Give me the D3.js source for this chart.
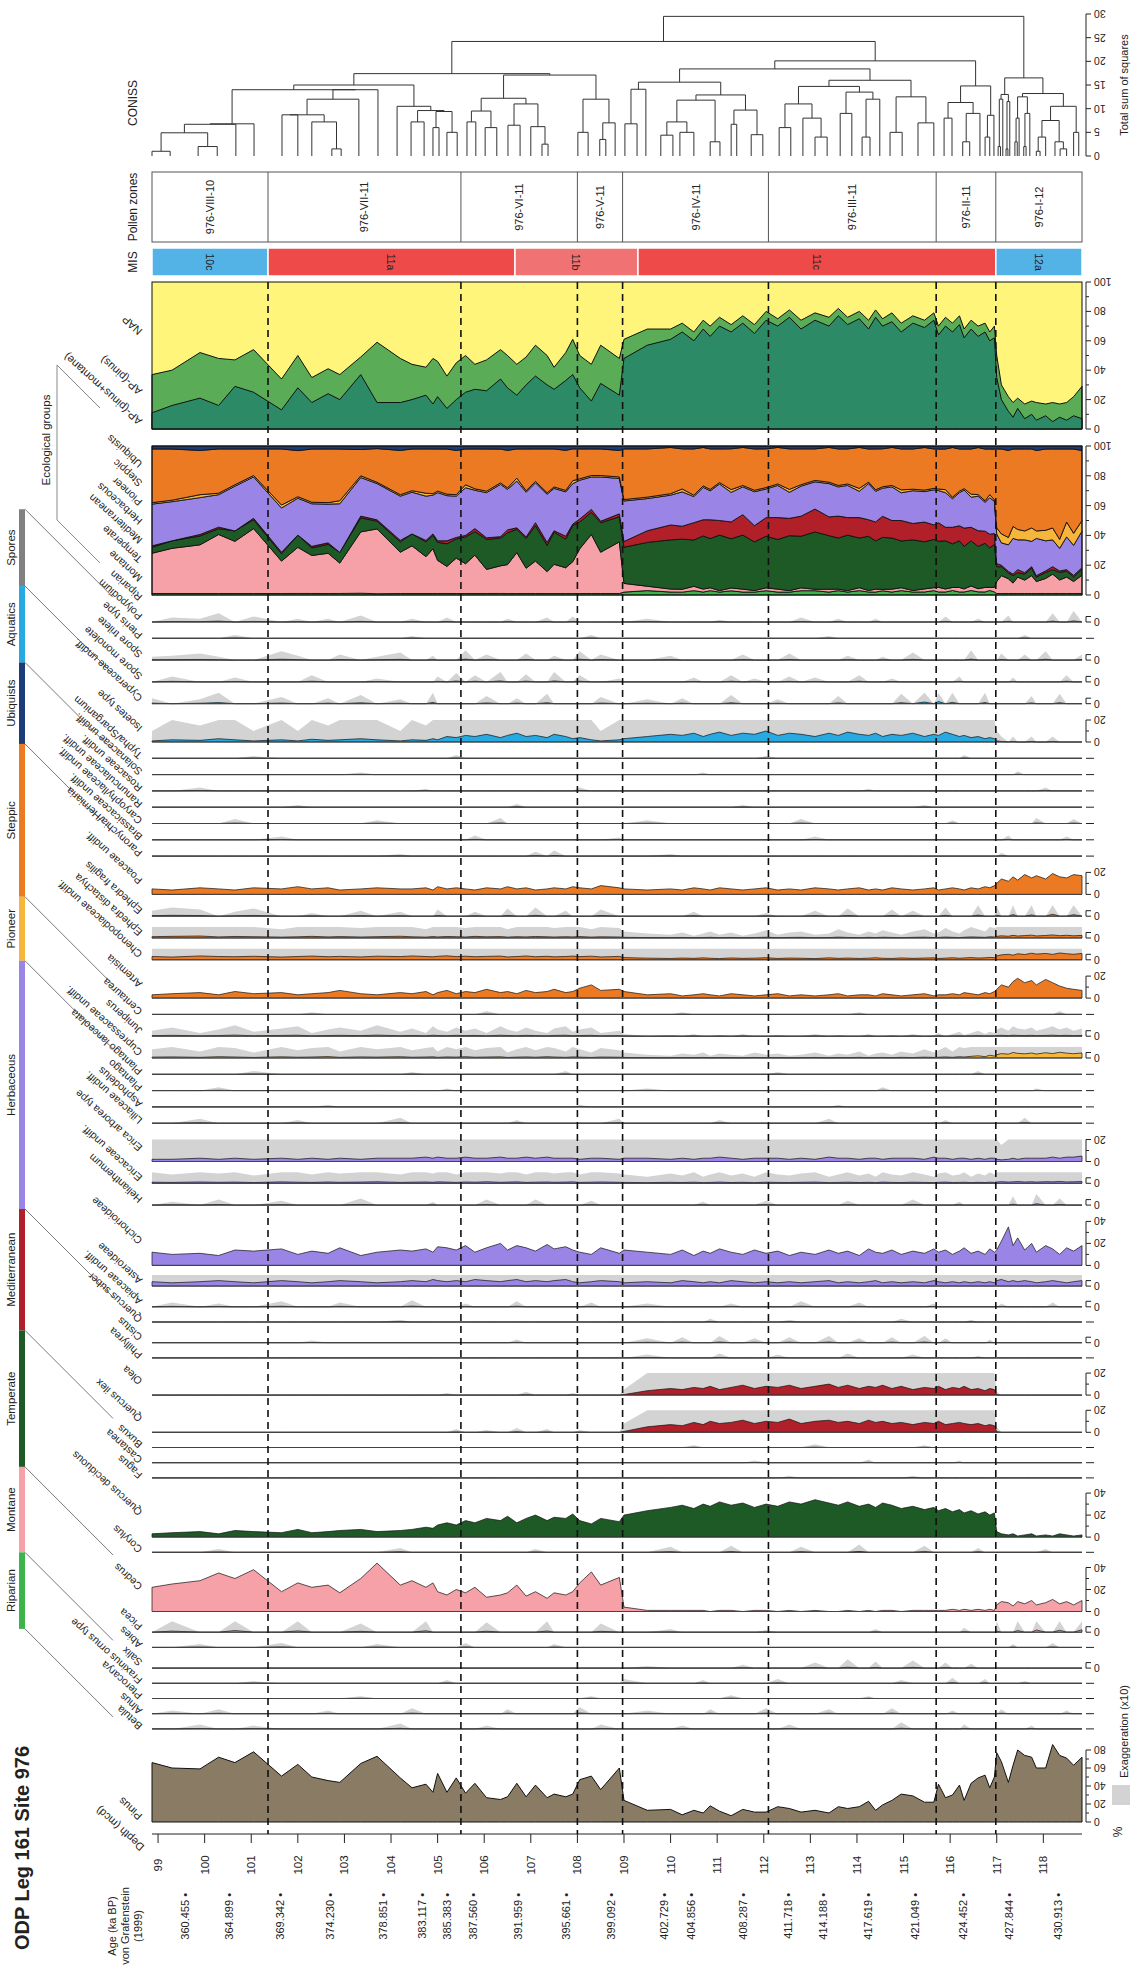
<!DOCTYPE html>
<html lang="en">
<head>
<meta charset="UTF-8">
<title>ODP Leg 161 Site 976 pollen diagram</title>
<script src="https://d3js.org/d3.v7.min.js"></script>
<style>
  body { margin: 0; background: #fff; }
  svg { display: block; font-family: "Liberation Sans", Arial, sans-serif; }
</style>
</head>
<body>
<svg id="chart" width="1136" height="1968"></svg>
<script>
// ---- sample depths (mcd) ----
const depths = [98.87, 99.3, 99.9, 100.3, 100.65, 101.05, 101.65, 102.0, 102.3, 102.65,
  102.9, 103.35, 103.7, 104.2, 104.45, 104.75, 104.9, 105.0, 105.2, 105.4,
  105.6, 105.8, 106.05, 106.35, 106.5, 106.7, 106.9, 107.1, 107.35, 107.5,
  107.75, 107.9, 108.05, 108.3, 108.5, 108.9, 109.0, 109.5, 110.0, 110.25,
  110.5, 110.7, 110.85, 111.05, 111.3, 111.55, 111.8, 112.05, 112.3, 112.55,
  112.8, 113.1, 113.4, 113.6, 113.8, 114.05, 114.25, 114.4, 114.55, 114.75,
  114.95, 115.2, 115.45, 115.65, 115.75, 115.9, 116.05, 116.2, 116.3, 116.45,
  116.6, 116.75, 116.85, 116.95, 117.0, 117.1, 117.25, 117.35, 117.45, 117.6,
  117.75, 117.85, 118.05, 118.2, 118.35, 118.5, 118.65, 118.83];

const pinus = [66,60,59,72,66,78,51,64,50,46, 44,65,73,49,38,42,33,54,33,49,
  32,43,27,25,28,43,28,41,27,31, 28,31,47,51,36,60,24,13,14,8,
  13,10,18,12,7,14,11,11,17,15, 11,13,10,17,15,17,23,13,19,24,
  31,29,22,22,42,27,30,41,24,43, 49,52,38,50,77,67,44,63,80,74,
  72,60,60,86,74,71,63,72];

// NAP panel (cumulative %)
const apPinusMontane = [11,16,21,16,29,25,13,28,18,24, 20,37,18,18,20,23,17,22,14,20,
  25,27,26,34,28,23,30,36,30,27, 33,37,28,19,31,23,48,57,61,66,
  60,68,63,70,66,72,65,74,70,76, 68,74,70,77,71,75,68,76,70,73,
  66,72,69,74,64,70,66,71,62,68, 63,66,60,62,35,20,12,8,14,7,
  10,6,9,5,8,6,9,7];
const apPinus = [37,40,52,48,47,54,34,50,35,41, 37,49,59,48,44,42,48,46,36,45,
  50,44,47,54,50,44,49,57,50,42, 52,61,50,44,57,48,61,68,68,72,
  66,74,70,76,71,77,71,80,75,81, 74,79,76,82,76,80,74,81,75,79,
  72,77,74,79,70,76,72,77,68,74, 70,72,66,70,50,30,22,18,21,17,
  19,18,17,18,17,18,22,29];

// ecological groups (%)
const ecoKeys = ["Riparian","Montane","Temperate","Mediterranean","Herbaceous","Pioneer","Steppic","Ubiquists"];
const riparian = [1,1,1,1,1,1,1,1,1,1, 1,1,1,1,1,1,1,1,1,1, 1,1,1,1,1,1,1,1,1,1,
  1,1,1,1,1,1,2,3,2,2, 3,2,3,2,3,2,2,3,2,2, 3,3,2,3,2,3,2,2,3,2,
  3,2,2,3,2,2,3,2,2,3, 2,2,3,2,1,1,1,1,1,1, 1,1,1,1,1,1,1,1];
const montane = [27,30,33,40,35,44,22,30,25,27, 20,35,50,28,32,25,30,22,18,24,
  20,26,16,18,20,28,17,22,15,20, 18,22,30,40,28,35,6,3,2,2,
  3,2,2,1,2,2,1,2,2,1, 2,1,2,1,1,2,1,2,1,2,
  2,1,2,2,3,2,2,3,2,3, 2,3,2,3,8,12,10,7,11,9, 12,8,10,13,9,11,8,12];
const temperate = [4,5,6,4,7,6,5,8,5,6, 7,8,6,7,8,10,9,12,15,13,
  18,16,20,18,22,16,20,24,18,22, 20,25,18,15,20,17,25,30,33,35,
  32,36,34,38,35,37,33,36,34,38, 36,40,37,35,38,34,36,33,37,35,
  32,34,31,33,30,32,29,31,28,30, 27,29,26,28,10,6,4,5,3,4, 5,3,4,3,5,4,3,4];
const mediterranean = [1,0,1,1,0,1,1,0,1,1, 0,1,1,1,0,1,1,1,2,1, 1,2,1,1,2,1,1,2,2,1,
  2,1,2,2,1,2,4,8,10,9, 12,11,13,10,12,14,11,13,15,12, 14,16,13,15,12,14,11,13,15,12,
  14,11,13,10,12,9,11,10,12,9, 10,8,9,7,2,1,1,1,2,1, 1,1,1,2,1,1,1,1];
const herbaceous = [28,26,25,22,30,28,30,24,28,26, 32,22,28,30,28,30,26,32,30,28,
  32,26,30,34,28,32,30,27,33,29, 31,28,26,22,30,24,28,22,20,24,
  18,22,20,25,21,19,23,20,22,18, 21,19,23,20,22,18,24,21,20,23,
  19,22,20,24,21,23,19,22,25,20, 22,19,24,21,20,15,18,24,20,22, 17,25,20,18,15,22,20,24];
const pioneer = [1,1,2,1,1,1,2,1,1,1, 2,1,1,1,1,2,1,1,1,1, 2,1,1,1,1,2,1,1,1,1,
  1,2,1,1,1,1,1,1,1,2, 1,1,1,1,2,1,1,1,1,2, 1,1,1,1,1,2,1,1,1,1,
  2,1,1,1,1,2,1,1,1,2, 1,1,2,1,4,6,5,8,7,6, 9,5,7,8,6,10,8,7];
const steppic = [36,34,30,30,24,18,38,30,35,36, 34,15,26,30,28,30,30,28,30,30,
  24,27,28,22,26,20,28,22,30,26, 28,22,20,18,18,18,35,33,31,28,
  32,26,28,23,29,26,28,27,25,28, 25,22,24,25,24,28,22,28,27,26,
  28,27,28,27,26,27,33,28,26,30, 30,34,30,33,53,57,59,52,54,55, 53,54,54,53,60,49,56,46];
const ubiquists = [2,2,3,2,2,2,2,3,2,2, 2,2,2,3,2,2,2,2,2,3, 2,2,2,2,3,2,2,2,2,2,
  3,2,2,2,2,3,2,2,1,2, 2,1,2,2,2,1,2,2,1,2, 2,2,1,2,2,1,2,2,2,1,
  2,2,1,2,2,2,1,2,2,2, 1,2,2,2,2,2,3,2,2,2, 2,3,2,2,2,2,2,3];

// ---- taxa: full series on the depth grid ----
const cedrus = [22,25,28,35,30,38,18,26,22,24, 17,30,44,24,28,22,26,18,15,20,
  17,22,13,15,17,24,14,18,12,17, 15,18,26,36,24,31,4,1,1,1,
  1,1,0,1,1,0,1,1,0,1, 0,1,0,0,1,0,1,0,1,1,
  0,1,1,1,1,1,2,1,2,1, 2,1,2,1,6,9,8,5,9,7, 10,6,8,11,7,9,6,10];
const quercusDeciduous = [3,4,5,3,6,5,4,7,4,5, 6,7,5,6,7,9,8,11,13,11,
  15,13,17,15,19,13,17,20,15,18, 17,21,15,12,17,14,20,24,27,29,
  26,30,28,32,29,31,27,30,28,32, 30,34,31,29,32,28,30,27,31,29,
  26,28,25,27,24,26,23,25,22,24, 21,23,20,22,5,3,2,3,1,2, 3,1,2,1,3,2,1,2];
const cichorioideae = [12,10,11,9,14,13,15,10,13,11, 16,9,12,14,13,15,12,17,16,14,
  18,12,16,20,14,18,16,13,19,15, 17,14,12,10,16,11,14,12,10,14,
  9,13,11,15,12,10,14,11,13,9, 12,10,14,11,13,9,15,12,11,14,
  10,13,11,15,12,14,10,13,16,11, 13,10,15,12,14,22,35,18,25,14, 20,12,18,15,10,16,13,18];
const ericaArborea = [2,2,3,2,3,2,3,2,3,2, 3,2,3,3,3,4,3,4,3,3, 4,3,3,4,3,3,4,3,4,3,
  3,3,2,3,3,2,3,3,2,3, 2,3,3,4,3,2,3,3,3,2, 3,2,4,3,3,2,3,3,2,3,
  3,3,2,4,3,3,2,3,3,2, 3,2,3,3,2,1.5,2,3,2,3, 3,3,3,4,3,4,4,5];
const asteroideae = [4,3,4,5,4,3,5,4,3,4, 5,4,3,4,5,4,6,5,4,5, 4,6,5,4,5,6,4,5,4,5,
  6,4,3,4,5,4,3,4,3,5, 4,3,4,3,5,4,3,4,3,4, 3,4,5,3,4,3,4,5,3,4,
  3,4,3,5,4,3,4,3,4,3, 4,3,4,3,5,6,4,5,4,5, 4,3,4,5,4,3,4,5];
const olea = [0,0,0,0,0,0,0,0,0,0, 0,0,0,0,0,0,0,0,0.2,0, 0,0,0,0,0,0,0.3,0,0,0,
  0,0.2,0,0,0,0,0.5,4,6,5, 7,6,8,5,7,9,6,8,7,9, 6,8,10,7,9,6,8,7,9,6,
  8,5,7,6,8,5,7,6,8,5, 6,4,6,5,0.3,0,0,0,0,0, 0,0,0,0,0,0,0,0];
const quercusIlex = [0,0,0,0,0,0,0,0,0,0, 0,0,0,0,0,0,0,0,0,0.3, 0,0,0.2,0,0,0.4,0,0,0.3,0,
  0,0,0.2,0,0,0,0.8,5,7,6, 9,7,10,8,9,11,8,10,9,12, 8,10,11,9,10,8,11,9,10,8,
  9,7,9,8,10,7,8,9,8,7, 8,6,7,6,0.5,0,0,0,0,0, 0,0,0,0,0,0,0,0];
const poaceae = [5,4,6,5,4,6,5,7,5,6, 4,5,6,5,5,6,4,7,5,6, 5,4,6,5,7,5,6,4,5,6,
  5,7,6,5,8,6,5,4,5,4, 6,5,4,6,5,4,5,6,4,5, 4,6,5,4,5,6,4,5,4,6,
  5,4,5,6,4,5,6,5,4,6, 5,7,6,8,10,14,12,16,13,18, 15,17,14,19,16,15,18,17];
const artemisia = [3,4,5,3,6,4,5,3,4,5, 7,4,3,5,4,6,3,5,7,4, 6,5,8,5,6,4,7,5,6,8,
  5,6,9,12,7,8,6,3,4,2, 3,4,3,2,4,3,2,3,4,2, 3,2,3,4,2,3,3,2,4,3,
  2,3,4,2,3,3,4,3,5,4, 3,5,4,6,8,12,10,15,18,14, 16,12,17,14,11,9,8,7];
const isoetes = [1,2,1.5,3,2,1,2,1,2.5,1.5, 2,3,2,1,2,1.5,3,2,5,4, 6,5,7,4,6,8,5,6,4,7,
  5,3,4,2,1,2,3,5,7,6, 8,5,7,9,6,8,7,10,6,8, 7,5,8,6,9,7,6,8,5,7,
  6,8,5,7,6,9,7,5,6,4, 5,3,4,3,1,0.5,0,0.5,0,0, 0.5,0,0,0.5,0,0,0,0];
const ephedraDistachya = [1.2,1.5,1.8,1.0,1.4,1.2,0.8,1.1,1.5,1.0, 1.3,0.9,1.2,1.6,1.1,0.8,1.3,1.0,1.4,1.2,
  0.9,1.5,1.1,1.3,0.8,1.2,1.0,1.4,1.1,0.9, 1.2,1.0,1.3,0.8,1.1,0.9,0.6,0.4,0.3,0.5,
  0.2,0.4,0.6,0.3,0.5,0.2,0.4,0.7,0.3,0.5, 0.6,0.3,0.4,0.8,0.5,0.3,0.6,0.4,0.7,0.5,
  0.3,0.6,0.8,0.4,0.5,0.9,0.6,0.4,0.7,1.0, 0.8,0.6,1.1,0.9,1.5,2.0,1.6,2.4,1.8,2.2,
  2.6,1.9,2.3,2.8,2.1,2.5,2.0,2.4];
const chenopodiaceae = [3,2.5,3.5,3,2.8,3.2,2.5,3,3.4,2.8, 3.1,2.6,3.3,2.9,3.5,3.0,2.7,3.2,3.6,2.9,
  3.3,2.8,3.1,3.4,2.6,3.0,3.5,2.8,3.2,2.7, 3.0,3.4,2.9,3.3,2.6,3.1,2.0,1.5,1.2,1.6,
  1.3,1.8,1.4,1.1,1.7,1.3,1.5,1.9,1.2,1.6, 1.4,1.1,1.8,1.3,1.6,1.2,1.5,1.9,1.4,1.2,
  1.7,1.3,1.6,1.8,1.2,1.5,1.9,1.4,1.7,2.0, 1.6,1.8,2.2,1.9,3.5,4.5,5.0,4.2,5.5,4.8,
  6.0,5.2,5.8,4.9,6.2,5.5,5.0,5.8];
const juniperus = [0.5,0.8,0.3,0.6,1.0,0.4,0.7,0.9,0.3,0.6, 0.8,0.5,1.0,0.4,0.7,0.3,0.9,0.6,0.4,0.8,
  0.5,0.7,0.3,0.9,0.6,0.4,0.8,0.5,0.3,0.7, 0.9,0.4,0.6,0.8,0.3,0.5,0.2,0,0.1,0,
  0.2,0,0,0.1,0,0.2,0,0,0.1,0, 0,0.2,0,0.1,0,0,0.2,0,0,0.1,
  0,0.2,0,0.1,0.3,0,0.2,0.4,0.1,0.3, 0.5,0.2,0.4,0.3,0.6,0.8,0.5,0.9,0.7,0.6,
  0.8,0.5,0.7,0.9,0.6,0.8,0.5,0.7];
const cupressaceae = [0.8,1.0,0.6,1.2,0.9,0.5,1.1,0.7,0.9,1.3, 0.6,1.0,0.8,1.2,0.7,0.9,1.1,0.6,1.0,0.8,
  1.2,0.7,0.9,1.1,0.5,0.8,1.0,0.7,1.2,0.9, 0.6,1.0,0.8,0.5,0.9,0.7,0.5,0.3,0.2,0.4,
  0.3,0.5,0.2,0.4,0.3,0.2,0.5,0.3,0.4,0.2, 0.3,0.5,0.2,0.4,0.3,0.6,0.2,0.4,0.5,0.3,
  0.6,0.4,0.8,0.5,0.7,1.0,0.6,1.2,0.9,1.5, 2.0,1.2,2.5,1.8,3.0,4.0,3.5,5.0,4.2,3.8,
  4.5,3.6,4.8,4.0,5.2,4.4,3.9,4.6];
const ericaceae = [1.0,0.8,1.2,0.9,1.1,0.7,1.3,1.0,0.8,1.2, 0.9,1.1,1.4,0.8,1.0,1.2,0.9,1.3,1.1,0.8,
  1.2,1.0,1.4,0.9,1.1,1.3,0.8,1.0,1.2,0.9, 1.1,1.3,0.8,1.0,1.2,0.9,0.8,0.6,0.9,0.7,
  1.0,0.6,0.8,1.1,0.7,0.9,0.6,1.0,0.8,0.7, 0.9,1.1,0.6,0.8,1.0,0.7,0.9,0.6,1.1,0.8,
  0.7,1.0,0.8,0.6,0.9,1.1,0.7,0.8,1.0,0.6, 0.9,0.7,1.0,0.8,1.2,1.5,1.1,1.3,1.6,1.2,
  1.4,1.1,1.5,1.3,1.7,1.2,1.4,1.6];

// ---- taxa: sparse [depth, %] (zero elsewhere) ----
const polypodium = [[99.3,0.4],[99.9,0.3],[100.3,0.8],[101.05,0.5],[102.0,0.3],[102.65,0.3],[103.35,0.6],[104.45,0.3],[105.2,0.4],[106.5,0.3],[107.35,0.4],[107.9,0.5],[109.5,0.3],[111.05,0.2],[112.8,0.4],[113.6,0.3],[114.4,0.3],[115.9,0.5],[116.6,0.3],[117.25,0.6],[118.2,0.8],[118.65,1.0]];
const pteris = [[100.65,0.3],[104.45,0.2],[108.3,0.3],[113.4,0.2],[117.6,0.3]];
const sporeTrilete = [[98.87,0.3],[99.3,0.4],[99.9,0.6],[100.3,0.3],[101.65,0.8],[102.0,0.4],[102.9,0.5],[103.7,0.3],[104.2,0.7],[104.9,0.4],[105.6,0.9],[106.05,0.5],[106.9,0.6],[107.5,0.4],[108.05,0.8],[108.5,0.5],[110.0,0.4],[111.55,0.5],[112.55,0.6],[113.8,0.4],[114.55,0.3],[115.2,0.7],[116.45,0.9],[117.1,0.6],[117.6,0.5],[118.05,0.8],[118.83,0.5]];
const sporeMonolete = [[99.3,0.5],[100.65,0.4],[102.3,0.6],[103.7,0.3],[105.0,0.5],[105.4,0.8],[105.8,0.6],[106.35,0.9],[106.9,0.7],[107.5,0.9],[108.05,0.6],[108.9,0.3],[110.5,0.4],[111.3,0.6],[111.8,0.3],[112.55,0.5],[113.1,0.4],[114.05,0.6],[114.75,0.3],[116.2,0.5],[117.35,0.4],[118.5,0.6]];
const cyperaceae = [[98.87,0.5],[99.9,0.4],[100.3,1.0],[101.65,0.6],[102.65,0.5],[103.35,0.8],[104.2,0.4],[104.9,1.2],[106.05,0.7],[106.7,0.5],[107.35,0.9],[108.5,0.6],[109.5,0.4],[110.25,0.5],[111.3,0.8],[112.3,0.4],[113.6,0.7],[114.95,0.9],[115.45,1.5],[115.75,2.0],[116.05,1.2],[116.75,1.1],[117.75,0.7],[118.35,0.9]];
const typha = [[101.05,0.2],[105.4,0.3],[112.05,0.2],[116.3,0.3]];
const solanaceae = [[103.35,0.2],[110.7,0.2],[117.45,0.3]];
const rosaceae = [[99.9,0.3],[104.75,0.2],[108.05,0.3],[114.25,0.2],[118.05,0.3]];
const ranunculaceae = [[102.0,0.2],[106.7,0.3],[111.55,0.2],[115.45,0.2]];
const caryophyllaceae = [[100.65,0.4],[103.7,0.3],[106.35,0.5],[109.5,0.3],[112.8,0.4],[116.05,0.3],[117.85,0.5],[118.65,0.4]];
const brassicaceae = [[101.65,0.3],[105.8,0.4],[108.9,0.2],[113.1,0.3],[117.25,0.4],[118.5,0.3]];
const paronychia = [[104.2,0.2],[107.1,0.4],[107.5,0.5],[110.0,0.2],[117.1,0.3]];
const ephedraFragilis = [[98.87,0.5],[99.3,0.8],[99.9,0.6],[100.65,0.4],[101.05,0.7],[102.3,0.3],[103.35,0.5],[104.2,0.4],[105.0,0.6],[105.8,0.4],[106.5,0.7],[107.1,0.8],[107.75,0.5],[108.5,0.6],[110.5,0.4],[112.05,0.3],[113.1,0.5],[113.8,0.7],[114.75,0.6],[115.2,0.5],[115.9,0.8],[116.6,1.0],[117.0,0.9],[117.35,1.5],[117.75,1.2],[118.2,1.8],[118.65,1.4]];
const centaurea = [[102.3,0.2],[106.05,0.3],[110.25,0.2],[114.05,0.2],[118.35,0.3]];
const plantagoLanceolata = [[101.05,0.3],[104.45,0.2],[107.75,0.3],[112.3,0.2],[116.6,0.3]];
const plantago = [[100.3,0.3],[105.2,0.2],[109.5,0.2],[114.55,0.3],[117.85,0.2]];
const asphodelus = [[102.65,0.2],[108.05,0.2],[113.6,0.2]];
const liliaceae = [[99.9,0.4],[102.0,0.3],[104.2,0.5],[106.7,0.3],[108.9,0.4],[111.05,0.3],[113.4,0.4],[115.9,0.3],[117.6,0.5]];
const helianthemum = [[99.3,0.3],[100.3,0.5],[101.65,0.4],[103.35,0.6],[104.9,0.3],[106.05,0.5],[107.1,0.5],[108.3,0.4],[110.7,0.3],[112.05,0.4],[113.8,0.4],[115.2,0.5],[116.2,0.3],[117.35,0.8],[117.85,1.2],[118.35,0.6]];
const apiaceae = [[99.3,0.4],[100.3,0.3],[101.65,0.5],[102.9,0.4],[104.45,0.6],[105.6,0.3],[106.7,0.5],[108.3,0.4],[109.5,0.3],[111.3,0.3],[112.8,0.5],[114.05,0.4],[115.65,0.3],[117.1,0.3],[118.2,0.4]];
const quercusSuber = [[104.2,0.2],[110.85,0.3],[112.55,0.2],[114.95,0.3],[116.45,0.2]];
const cistus = [[102.3,0.2],[106.7,0.3],[109.5,0.4],[110.25,0.5],[111.05,0.6],[111.8,0.4],[112.55,0.5],[113.4,0.6],[114.05,0.4],[114.75,0.5],[115.45,0.6],[115.9,0.4],[116.85,0.3]];
const phillyrea = [[109.5,0.3],[111.05,0.4],[112.3,0.3],[113.8,0.4],[115.2,0.3],[116.6,0.2]];
const buxus = [[110.5,0.2],[113.1,0.3],[115.45,0.2]];
const castanea = [[111.8,0.2],[114.25,0.3],[116.2,0.2]];
const fagus = [[112.55,0.2],[115.2,0.2]];
const corylus = [[100.3,0.3],[104.2,0.4],[107.1,0.3],[110.0,0.5],[111.3,0.6],[112.8,0.5],[114.05,0.7],[115.45,0.6],[116.6,0.4],[118.05,0.3]];
const picea = [[99.3,1.0],[100.65,1.5],[102.0,1.2],[103.35,0.8],[104.75,1.3],[106.05,0.9],[107.35,1.1],[108.5,0.8],[110.0,0.3],[112.05,0.2],[114.4,0.3],[116.3,0.4],[117.0,1.0],[117.45,1.5],[117.85,2.0],[118.35,1.8],[118.83,2.2]];
const abies = [[99.9,0.3],[101.65,0.4],[103.7,0.3],[105.6,0.4],[107.5,0.3],[117.35,0.3],[118.2,0.4]];
const salix = [[109.5,0.2],[111.55,0.3],[113.1,0.5],[113.8,0.8],[114.4,0.6],[115.2,0.7],[115.9,0.5],[116.45,0.4]];
const fraxinusOrnus = [[101.05,0.2],[105.2,0.3],[109.0,0.4],[110.7,0.3],[112.3,0.4],[114.95,0.3],[116.05,0.5],[116.75,0.4],[117.6,0.2]];
const pterocarya = [[103.35,0.2],[108.3,0.2],[111.3,0.3],[114.25,0.2]];
const alnus = [[99.3,0.3],[100.3,0.4],[102.65,0.3],[104.45,0.5],[106.5,0.4],[108.05,0.6],[109.5,0.3],[110.85,0.4],[112.05,0.5],[113.4,0.4],[114.75,0.5],[116.05,0.3],[117.1,0.4],[118.5,0.3]];
const betula = [[99.9,0.4],[101.05,0.3],[104.2,0.5],[106.05,0.3],[108.5,0.4],[110.25,0.3],[112.55,0.4],[114.95,0.6],[116.3,0.4],[117.75,0.3]];

// row order top -> bottom; scale 0 = no scale, 5 = small bracket
const taxonNames = ["Polypodium","Pteris type","Spore trilete","Spore monolete",
  "Cyperaceae undiff.","Isoetes type","Typha/Sparganium",
  "Solanaceae undiff.","Rosaceae undiff.","Ranunculaceae undiff.","Caryophyllaceae undiff.","Brassicaceae undiff.",
  "Paronychia/Herniaria","Poaceae undiff.","Ephedra fragilis","Ephedra distachya","Chenopodiaceae undiff.","Artemisia",
  "Centaurea","Juniperus","Cupressaceae undiff.",
  "Plantago lanceolata","Plantago","Asphodelus","Liliaceae undiff.","Erica arborea type","Ericaceae undiff.","Helianthemum","Cichorioideae","Asteroideae","Apiaceae undiff.",
  "Quercus suber","Cistus","Phillyrea","Olea","Quercus ilex",
  "Buxus","Castanea","Fagus","Quercus deciduous","Corylus",
  "Cedrus","Picea","Abies",
  "Salix","Fraxinus ornus type","Pterocarya","Alnus","Betula"];
const taxonGroups = ["Spores","Spores","Spores","Spores",
  "Aquatics","Aquatics","Aquatics",
  "Ubiquists","Ubiquists","Ubiquists","Ubiquists","Ubiquists",
  "Steppic","Steppic","Steppic","Steppic","Steppic","Steppic",
  "Pioneer","Pioneer","Pioneer",
  "Herbaceous","Herbaceous","Herbaceous","Herbaceous","Herbaceous","Herbaceous","Herbaceous","Herbaceous","Herbaceous","Herbaceous",
  "Mediterranean","Mediterranean","Mediterranean","Mediterranean","Mediterranean",
  "Temperate","Temperate","Temperate","Temperate","Temperate",
  "Montane","Montane","Montane",
  "Riparian","Riparian","Riparian","Riparian","Riparian"];
const taxonScales = [5,0,5,5, 5,20,0, 0,0,0,0,0, 0,20,5,5,5,20, 0,5,5,
  0,0,0,0,20,5,5,40,5,5, 0,5,0,20,20, 0,0,0,40,0, 40,5,0, 5,0,0,0,0];
// grey x10 exaggeration shown (1) or not (0)
const taxonExag = [1,1,1,1, 1,1,1, 1,1,1,1,1, 1,0,1,1,1,0, 1,1,1,
  1,1,1,1,1,1,1,0,1,1, 1,1,1,1,1, 1,1,1,0,1, 0,1,1, 1,1,1,1,1];
const taxonSeries = [polypodium, pteris, sporeTrilete, sporeMonolete,
  cyperaceae, isoetes, typha,
  solanaceae, rosaceae, ranunculaceae, caryophyllaceae, brassicaceae,
  paronychia, poaceae, ephedraFragilis, ephedraDistachya, chenopodiaceae, artemisia,
  centaurea, juniperus, cupressaceae,
  plantagoLanceolata, plantago, asphodelus, liliaceae, ericaArborea, ericaceae, helianthemum, cichorioideae, asteroideae, apiaceae,
  quercusSuber, cistus, phillyrea, olea, quercusIlex,
  buxus, castanea, fagus, quercusDeciduous, corylus,
  cedrus, picea, abies,
  salix, fraxinusOrnus, pterocarya, alnus, betula];

const groupOrder = ["Spores","Aquatics","Ubiquists","Steppic","Pioneer","Herbaceous","Mediterranean","Temperate","Montane","Riparian"];

// zones, MIS, ages
const zoneBounds = [98.87, 101.36, 105.5, 108.0, 108.97, 112.1, 115.7, 116.98, 118.83];
const zoneNames = ["976-VIII-10","976-VII-11","976-VI-11","976-V-11","976-IV-11","976-III-11","976-II-11","976-I-12"];
const misBounds = [98.87, 101.36, 106.66, 109.3, 116.98, 118.83];
const misNames = ["10c","11a","11b","11c","12a"];
const ageDepths = [99.58,100.52,101.62,102.69,103.83,104.67,105.2,105.76,106.73,107.76,108.72,109.86,110.44,111.55,112.52,113.27,114.24,115.24,116.27,117.26,118.31];
const ageLabels = ["360.455","364.899","369.342","374.230","378.851","383.117","385.383","387.560","391.959","395.661","399.092","402.729","404.856","408.287","411.718","414.188","417.619","421.049","424.452","427.844","430.913"];

// CONISS tree: [height, left, right], leaves are depths
const coniss = [29.5,
  [24.2,
    [17.4,
      [15, [14, [6.8, [6.7, [4.9, [1.0, 98.87, 99.26], [2.0, 99.86, 100.27]], 100.67], 101.06],
                 [14, [12, [8.7, [8.7, 101.66, 102.00], [7.2, 102.30, [1.5, 102.73, 102.93]]], 103.31], 103.72]],
            [10.5, 104.13, [9.6, [7.2, 104.43, 104.71], [9.4, [6.0, 104.90, 105.03], [5.0, 105.20, 105.42]]]]],
      [17.1, [12.2, [9.5, [7.2, 105.63, 105.82], [6.0, 106.02, 106.27]], [11, [6.5, 106.51, 106.77], [6.2, 107.00, [2.5, 107.24, 107.37]]]],
             [12, [5, 108.01, 108.23], [7, [3.5, 108.48, 108.61], 108.81]]]],
    [20.1,
      [18.4,
        [15.6, [14.1, [6.8, 109.02, 109.28], 109.47],
               [12.9, [11.8, [7.2, [4.4, 109.79, 110.05], [5, 110.20, 110.5]], [3, 110.85, 111.06]],
                      [9.7, [6.7, 111.30, 111.42], [4.5, 111.73, 111.98]]]],
        [16, [14.7, [11, [6, 112.33, 112.58], [8, 112.84, [4, 113.10, 113.36]]], [13.5, [9, 113.64, 113.89], [12, [4, 114.11, 114.28], 114.49]]],
             [12.5, [5, 114.71, 114.97], [7, 115.31, 115.65]]]],
      [14.8, [11.3, [8, 115.87, 116.04], [9, [3, 116.27, 116.42], 116.64]], [8.6, [4, 116.75, 116.85], 116.94]]]],
  [16.5,
    [13, [12, [2, 117.03, 117.08], 117.13], [11.5, [1.5, 117.20, 117.24], 117.28]],
    [13.2, [12.5, [8, [3, 117.39, 117.44], 117.48], [9, [2, 117.58, 117.63], 117.71]],
           [10.5, [7.5, [4, [1, 117.85, 117.93], 118.05], [3, 118.25, [1.5, 118.36, 118.5]]], [5, 118.65, 118.76]]]]];

// ---------------- drawing ----------------
const svg = d3.select("#chart");
const ink = "#222";
const groupColor = {
  Spores: "#808080", Aquatics: "#27a9e1", Ubiquists: "#1c3d78", Steppic: "#ec7a22", Pioneer: "#f6b63a",
  Herbaceous: "#9a85e6", Mediterranean: "#b11f29", Temperate: "#1e5a26", Montane: "#f6a1a7", Riparian: "#3bb44a"
};
const x = d3.scaleLinear().domain([98.87, 118.83]).range([152, 1082]);
const X0 = 152, X1 = 1082, AX = 1086;

function flipLabel(g, px, py, str) {
  g.append("text").attr("transform", `translate(${px},${py}) rotate(180)`)
    .attr("text-anchor", "end").attr("dominant-baseline", "central")
    .attr("font-size", 10.5).attr("fill", ink).text(str);
}
function rightAxis(g, y, max, step, minor, labelTop) {
  g.append("line").attr("x1", AX).attr("x2", AX).attr("y1", y(0)).attr("y2", y(max)).attr("stroke", ink);
  d3.range(0, max + 0.001, minor).forEach(v => {
    const major = Math.abs(v % step) < 1e-6;
    g.append("line").attr("x1", AX).attr("x2", AX + (major ? 5 : 3))
      .attr("y1", y(v)).attr("y2", y(v)).attr("stroke", ink);
    if (major && (labelTop !== false || v === 0)) flipLabel(g, AX + 8, y(v), v);
  });
}
function diagLabel(g, px, py, str, size) {
  g.append("text").attr("transform", `translate(${px},${py}) rotate(-138)`)
    .attr("font-size", size || 10.5).attr("fill", ink).text(str);
}
function vtext(g, px, py, str, size, angle, weight) {
  g.append("text").attr("transform", `translate(${px},${py}) rotate(${angle || -90})`)
    .attr("text-anchor", "middle").attr("dominant-baseline", "central")
    .attr("font-size", size).attr("font-weight", weight || "normal").attr("fill", ink).text(str);
}

// ---- CONISS ----
const yC = d3.scaleLinear().domain([0, 30]).range([156, 14]);
const gC = svg.append("g").attr("stroke", "#333").attr("stroke-width", 1).attr("fill", "none");
function drawNode(n) {
  if (!Array.isArray(n)) return { px: x(n), h: 0 };
  const l = drawNode(n[1]), r = drawNode(n[2]);
  gC.append("line").attr("x1", l.px).attr("x2", r.px).attr("y1", yC(n[0])).attr("y2", yC(n[0]));
  gC.append("line").attr("x1", l.px).attr("x2", l.px).attr("y1", yC(n[0])).attr("y2", yC(l.h));
  gC.append("line").attr("x1", r.px).attr("x2", r.px).attr("y1", yC(n[0])).attr("y2", yC(r.h));
  return { px: (l.px + r.px) / 2, h: n[0] };
}
drawNode(coniss);
rightAxis(svg.append("g"), yC, 30, 5, 5);
vtext(svg, 1124, 85, "Total sum of squares", 11);
vtext(svg, 133, 103, "CONISS", 12);

// ---- pollen zones ----
const gZ = svg.append("g");
gZ.append("rect").attr("x", X0).attr("y", 172).attr("width", X1 - X0).attr("height", 70)
  .attr("fill", "none").attr("stroke", "#555");
zoneBounds.slice(1, -1).forEach(d => gZ.append("line").attr("x1", x(d)).attr("x2", x(d))
  .attr("y1", 172).attr("y2", 242).attr("stroke", "#555"));
zoneNames.forEach((z, i) => vtext(gZ, (x(zoneBounds[i]) + x(zoneBounds[i + 1])) / 2, 207, z, 11));
vtext(svg, 133, 207, "Pollen zones", 12);

// ---- MIS ----
const misColor = { "10c": "#53b3e6", "11a": "#ee4a4a", "11b": "#f07272", "11c": "#ee4a4a", "12a": "#53b3e6" };
misNames.forEach((m, i) => {
  svg.append("rect").attr("x", x(misBounds[i])).attr("y", 248)
    .attr("width", x(misBounds[i + 1]) - x(misBounds[i])).attr("height", 28)
    .attr("fill", misColor[m]).attr("stroke", "#fff").attr("stroke-width", 1.5);
  vtext(svg, (x(misBounds[i]) + x(misBounds[i + 1])) / 2, 262, m, 10.5, 90);
});
vtext(svg, 133, 262, "MIS", 12);

// ---- NAP / AP panel ----
const yN = d3.scaleLinear().domain([0, 100]).range([429, 282]);
const nap = depths.map((d, i) => ({ d, lo: apPinusMontane[i], hi: apPinus[i] }));
svg.append("rect").attr("x", X0).attr("y", yN(100)).attr("width", X1 - X0).attr("height", yN(0) - yN(100)).attr("fill", "#fff57a");
svg.append("path").datum(nap).attr("fill", "#5aac56").attr("stroke", "#111").attr("stroke-width", 1)
  .attr("d", d3.area().x(p => x(p.d)).y0(yN(0)).y1(p => yN(p.hi)));
svg.append("path").datum(nap).attr("fill", "#2c8a66").attr("stroke", "#111").attr("stroke-width", 1)
  .attr("d", d3.area().x(p => x(p.d)).y0(yN(0)).y1(p => yN(p.lo)));
svg.append("rect").attr("x", X0).attr("y", yN(100)).attr("width", X1 - X0).attr("height", yN(0) - yN(100))
  .attr("fill", "none").attr("stroke", "#111");
rightAxis(svg.append("g"), yN, 100, 20, 10);
diagLabel(svg, 143, 330, "NAP", 11);
diagLabel(svg, 143, 390, "AP-(pinus)", 11);
diagLabel(svg, 143, 420, "AP-(pinus+montane)", 11);

// ---- ecological groups panel ----
const yE = d3.scaleLinear().domain([0, 100]).range([595, 446]);
const ecoArrays = [riparian, montane, temperate, mediterranean, herbaceous, pioneer, steppic, ubiquists];
const ecoTable = depths.map((d, i) => {
  const o = { d };
  ecoKeys.forEach((key, j) => { o[key] = ecoArrays[j][i]; });
  return o;
});
const ecoStack = d3.stack().keys(ecoKeys).offset(d3.stackOffsetExpand)(ecoTable);
svg.append("g").selectAll("path").data(ecoStack).join("path")
  .attr("fill", s => groupColor[s.key]).attr("stroke", "#111").attr("stroke-width", 0.9)
  .attr("d", d3.area().x(p => x(p.data.d)).y0(p => yE(p[0] * 100)).y1(p => yE(p[1] * 100)));
svg.append("rect").attr("x", X0).attr("y", yE(100)).attr("width", X1 - X0).attr("height", yE(0) - yE(100))
  .attr("fill", "none").attr("stroke", "#111");
rightAxis(svg.append("g"), yE, 100, 20, 10);
ecoKeys.forEach((key, i) => diagLabel(svg, 143, 596 - i * 19, key, 10.5));

// Ecological groups bracket
const gB = svg.append("g").attr("stroke", "#888").attr("stroke-width", 1);
gB.append("line").attr("x1", 57).attr("x2", 57).attr("y1", 365).attr("y2", 520);
gB.append("line").attr("x1", 57).attr("x2", 100).attr("y1", 365).attr("y2", 408);
gB.append("line").attr("x1", 57).attr("x2", 100).attr("y1", 520).attr("y2", 563);
vtext(svg, 46, 440, "Ecological groups", 11.5);

// ---- taxon rows ----
const k = 1.1;
function toGrid(series) {
  if (typeof series[0] === "number") return depths.map((d, i) => [d, series[i]]);
  const vals = depths.map(d => [d, 0]);
  series.forEach(p => { vals[d3.minIndex(depths, d => Math.abs(d - p[0]))][1] = p[1]; });
  return vals;
}
let cursor = 600.2;
const rows = taxonNames.map((name, i) => {
  const h = taxonScales[i] * k;
  cursor += (i < 29 ? 16.3 : 15.2) + h;
  return { name, group: taxonGroups[i], scale: taxonScales[i], exag: taxonExag[i], h, base: cursor,
           anchor: cursor - h / 2 - 4, vals: toGrid(taxonSeries[i]) };
});
const gR = svg.append("g");
rows.forEach(r => {
  const cap = Math.max(r.h, 11);
  if (r.exag) {
    gR.append("path").datum(r.vals).attr("fill", "#d3d3d3")
      .attr("d", d3.area().x(p => x(p[0])).y0(r.base).y1(p => r.base - Math.min(p[1] * 10 * k, cap)));
  }
  gR.append("path").datum(r.vals).attr("fill", groupColor[r.group]).attr("stroke", "#111").attr("stroke-width", 0.7)
    .attr("d", d3.area().x(p => x(p[0])).y0(r.base).y1(p => r.base - p[1] * k));
  gR.append("line").attr("x1", X0).attr("x2", X1).attr("y1", r.base).attr("y2", r.base)
    .attr("stroke", "#444").attr("stroke-width", 1);
  if (r.scale === 0) {
    gR.append("line").attr("x1", AX).attr("x2", AX + 8).attr("y1", r.base).attr("y2", r.base).attr("stroke", ink);
  } else {
    const yr = d3.scaleLinear().domain([0, r.scale]).range([r.base, r.base - r.h]);
    const step = r.scale === 40 ? 20 : r.scale;
    rightAxis(gR, yr, r.scale, step, r.scale === 5 ? 5 : 10, r.scale !== 5);
  }
  diagLabel(gR, 143, r.anchor, r.name, 10.5);
});

// group bars + leader lines
const off = 100;
const gG = svg.append("g");
const groupSpans = groupOrder.map(g => {
  const rs = rows.filter(r => r.group === g);
  return { g, first: rs[0].anchor, last: rs[rs.length - 1].anchor };
});
const bounds = [groupSpans[0].first - 6 - off];
for (let i = 0; i < groupSpans.length - 1; i++) bounds.push((groupSpans[i].last + groupSpans[i + 1].first) / 2 - off);
bounds.push(groupSpans[groupSpans.length - 1].last + 4 - off);
groupSpans.forEach((s, i) => {
  gG.append("rect").attr("x", 19).attr("y", bounds[i]).attr("width", 6).attr("height", bounds[i + 1] - bounds[i])
    .attr("fill", groupColor[s.g]);
  vtext(gG, 11, (bounds[i] + bounds[i + 1]) / 2, s.g, 11.5);
});
bounds.forEach(b => gG.append("line").attr("x1", 25).attr("x2", 113).attr("y1", b).attr("y2", b + 88)
  .attr("stroke", "#555").attr("stroke-width", 0.8));

// ---- Pinus ----
const yP = d3.scaleLinear().domain([0, 100]).range([1822, 1732]);
svg.append("path").datum(depths.map((d, i) => [d, pinus[i]])).attr("fill", "#8a7c64").attr("stroke", "#111").attr("stroke-width", 1)
  .attr("d", d3.area().x(p => x(p[0])).y0(yP(0)).y1(p => yP(p[1])));
rightAxis(svg.append("g"), yP, 80, 20, 10);
diagLabel(svg, 143, 1815, "Pinus", 11);

// ---- depth axis and ages ----
const gD = svg.append("g");
gD.append("line").attr("x1", X0).attr("x2", X1).attr("y1", 1834).attr("y2", 1834).attr("stroke", ink);
d3.range(99, 119).forEach(d => {
  gD.append("line").attr("x1", x(d)).attr("x2", x(d)).attr("y1", 1834).attr("y2", 1843).attr("stroke", ink);
  vtext(gD, x(d), 1865, d, 11.5);
});
diagLabel(svg, 145, 1846, "Depth (mcd)", 11);
ageLabels.forEach((a, i) => {
  gD.append("text").attr("transform", `translate(${x(ageDepths[i])},1893) rotate(-90)`)
    .attr("text-anchor", "end").attr("dominant-baseline", "central").attr("font-size", 11)
    .attr("fill", ink).text(a + " \u2022");
});
vtext(svg, 112, 1926, "Age (ka BP)", 11);
vtext(svg, 125, 1926, "von Grafenstein", 11);
vtext(svg, 138, 1926, "(1999)", 11);
vtext(svg, 22, 1848, "ODP Leg 161 Site 976", 20, -90, "bold");

// ---- zone dashed lines ----
zoneBounds.slice(1, -1).forEach(d => svg.append("line").attr("x1", x(d)).attr("x2", x(d))
  .attr("y1", 282).attr("y2", 1834).attr("stroke", "#111").attr("stroke-width", 1.6).attr("stroke-dasharray", "7,5"));

// ---- legend ----
svg.append("rect").attr("x", 1112).attr("y", 1785).attr("width", 18).attr("height", 20).attr("fill", "#d3d3d3");
svg.append("text").attr("transform", "translate(1124,1778) rotate(-90)").attr("font-size", 11)
  .attr("dominant-baseline", "central").attr("fill", ink).text("Exaggeration (x10)");
vtext(svg, 1118, 1832, "%", 12);
</script>
</body>
</html>
